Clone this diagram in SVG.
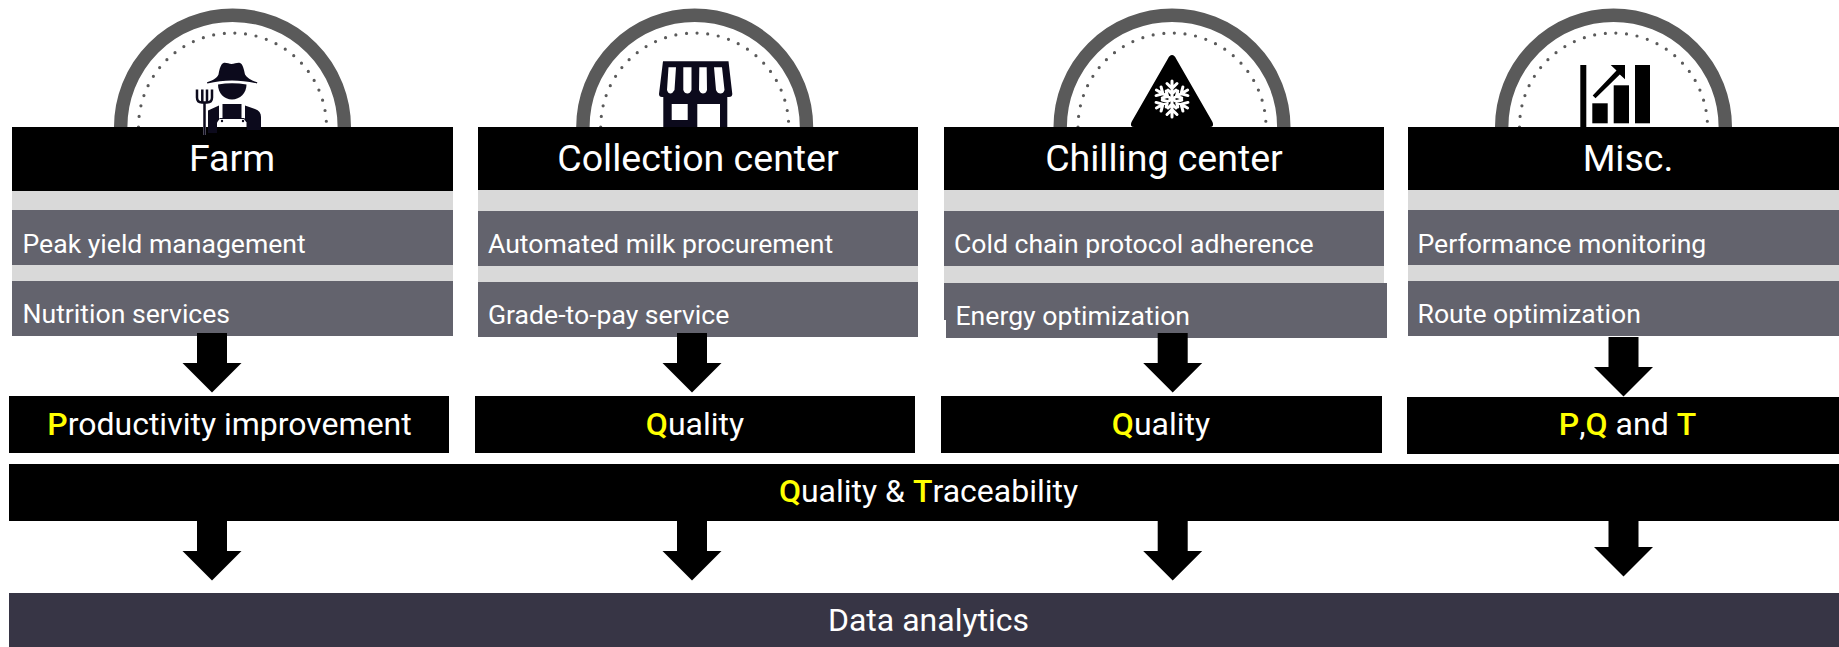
<svg xmlns="http://www.w3.org/2000/svg" width="1839" height="647" viewBox="0 0 1839 647">
<style>
text{font-family:Roboto,"Liberation Sans",sans-serif;fill:#fff}
.h{font-size:37.500px;text-anchor:middle}
.s{font-size:26.600px}
.o{font-size:32px;text-anchor:middle}
.y{fill:#ff0;font-weight:500}
.blk{fill:#000}
.lt{fill:#d9d9d9}
.dk{fill:#63636d}
.ring{fill:#fff;stroke:#5a5a5a;stroke-width:13.400}
.dots{fill:none;stroke:#5a5a5a;stroke-width:3.200;stroke-linecap:round;stroke-dasharray:0 10.700}
.ic{fill:#0c0a1c}
.w{fill:#fff}
.sf{stroke:#fff;stroke-width:3;fill:none;stroke-linecap:round}
</style>
<defs>
<g id="badge">
<path class="ring" d="M-111.800 0A111.800 111.800 0 0 1 111.800 0"/>
<path class="dots" d="M-94 0A94 94 0 0 1 94 0"/>
</g>
<path id="arrow" d="M-15 0H15V30H29.500L0 59.500-29.500 30H-15Z"/>
<g id="arm"><path d="M0 0V-18M-5 -15.500L0 -10.500 5 -15.500M-4 -9L0 -5 4 -9"/></g>
</defs>
<rect width="1839" height="647" fill="#fff"/>

<g id="node-farm">
<use href="#badge" x="232.500" y="127"/>
<g id="farm-icon">
<path class="ic" d="M207 82.300C213 80.500 217 78 218.500 74.500C219.500 69 221 63.500 223.500 63C226 62.300 229 64 231.500 64C234.500 64 237.500 62.300 240 63C242.500 63.800 244 69 245 74.500C247 78 251.500 80.500 257.300 82.300L257 83.500C248 81.500 240 80.500 232 80.500C224 80.500 216 81.500 207.300 83.500Z"/>
<path class="ic" d="M218 84.500Q232 81.800 246.500 84.500C246.500 93 240 99.500 232 99.500C224 99.500 218 93 218 84.500Z"/>
<path class="ic" d="M208 110.500L219 105.500V122L217 125V135H208ZM245 105.500L255 109C259 110.500 261 113 261 117V130H247L246 124H217V122H245Z"/>
<path class="ic" d="M222.500 104H241.500V118H222.500ZM217 121.500Q218.500 118.500 220 118H244Q246 118.500 247 121.500V135H217Z" fill-rule="evenodd"/>
<path class="w" d="M217 127V122.500L219.500 119H244L246.500 122.500V127Z"/>
<circle class="ic" cx="222" cy="121" r="1.200"/><circle class="ic" cx="243" cy="121" r="1.200"/>
<path d="M197 89.500V97.500Q197 102.500 202 102.500H207Q212 102.500 212 97.500V89.500M202.300 89.500V102M207 89.500V102M204.500 102V135" fill="none" stroke="#0c0a1c" stroke-width="2.500"/>
</g>
<path d="M12 127H203V135H206V127H208V133H217V127H247V130H261V127H453V191H12Z" class="blk"/>
<rect class="lt" x="12" y="191" width="441" height="19"/>
<rect class="dk" x="12" y="210" width="441" height="55"/>
<rect class="lt" x="12" y="265" width="441" height="16"/>
<rect class="dk" x="12" y="281" width="441" height="55"/>
<text class="h" x="232" y="170.500">Farm</text>
<text class="s" x="22.500" y="252.700">Peak yield management</text>
<text class="s" x="22.500" y="322.700">Nutrition services</text>
</g>

<g id="node-collection">
<use href="#badge" x="694.700" y="127"/>
<g id="store-icon">
<path class="ic" d="M663 61.300H728.500L732.300 94Q732.300 97 729 97H727.300V130H663.300V97H662Q659 97 659 94Z"/>
<path class="w" d="M668.500 67.300H676L674.500 90Q672.500 93.500 670.500 93.500Q668 93.500 667 90ZM683.300 67.300H691.500V90Q690 93.500 687.500 93.500Q684.500 93.500 683.300 90ZM699.300 67.300H706.700L707 90Q706 93.500 703 93.500Q700.500 93.500 699 90ZM714 67.300H722L724.500 90Q723.500 93.500 720.500 93.500Q717.500 93.500 716 90Z"/>
<rect class="w" x="671.700" y="104" width="16" height="16"/>
<rect class="w" x="697.300" y="104" width="22.700" height="23"/>
</g>
<rect class="blk" x="478" y="127" width="440" height="63"/>
<rect class="lt" x="478" y="190" width="440" height="21"/>
<rect class="dk" x="478" y="211" width="440" height="55"/>
<rect class="lt" x="478" y="266" width="440" height="16"/>
<rect class="dk" x="478" y="282" width="440" height="55"/>
<text class="h" x="698" y="170.500">Collection center</text>
<text class="s" x="488" y="252.700">Automated milk procurement</text>
<text class="s" x="488" y="323.500">Grade-to-pay service</text>
</g>

<g id="node-chilling">
<use href="#badge" x="1172" y="127"/>
<g id="cold-icon">
<path d="M1172 55Q1174.500 55 1176 58.500L1212.500 122Q1214.500 127 1210 127H1134Q1129.500 127 1131.500 122L1168 58.500Q1169.500 55 1172 55Z" fill="#000"/>
<g class="sf" transform="translate(1172 99)">
<use href="#arm"/><use href="#arm" transform="rotate(60)"/><use href="#arm" transform="rotate(120)"/><use href="#arm" transform="rotate(180)"/><use href="#arm" transform="rotate(240)"/><use href="#arm" transform="rotate(300)"/>
</g>
</g>
<rect class="blk" x="944" y="127" width="440" height="63"/>
<rect class="lt" x="944" y="190" width="440" height="21"/>
<rect class="dk" x="944" y="211" width="440" height="55"/>
<rect class="lt" x="944" y="266" width="440" height="17"/>
<rect class="dk" x="944" y="283" width="2" height="37"/>
<rect class="dk" x="946" y="283" width="441" height="55"/>
<text class="h" x="1164" y="170.500">Chilling center</text>
<text class="s" x="954" y="252.700">Cold chain protocol adherence</text>
<text class="s" x="955.500" y="325">Energy optimization</text>
</g>

<g id="node-misc">
<use href="#badge" x="1613.500" y="127"/>
<g id="chart-icon">
<rect class="blk" x="1580.300" y="65" width="6" height="62"/>
<rect class="blk" x="1592.300" y="103.300" width="15.400" height="20"/>
<rect class="blk" x="1613.700" y="85.300" width="15.300" height="38"/>
<rect class="blk" x="1635" y="65" width="15" height="58.300"/>
<path class="blk" d="M1610.700 65H1625V79.300L1619.800 74.500 1595.500 98.300 1592.700 95.500 1616.500 70.500Z"/>
</g>
<rect class="blk" x="1408" y="127" width="440" height="63"/>
<rect class="lt" x="1408" y="190" width="440" height="20"/>
<rect class="dk" x="1408" y="210" width="440" height="55"/>
<rect class="lt" x="1408" y="265" width="440" height="16"/>
<rect class="dk" x="1408" y="281" width="440" height="55"/>
<text class="h" x="1628" y="170.500">Misc.</text>
<text class="s" x="1417.500" y="252.700">Performance monitoring</text>
<text class="s" x="1417.500" y="322.700">Route optimization</text>
</g>

<g id="node-out-farm"><rect class="blk" x="9" y="396" width="440" height="57"/><text class="o" x="229.500" y="435"><tspan class="y">P</tspan>roductivity improvement</text></g>
<g id="node-out-collection"><rect class="blk" x="475" y="396" width="440" height="57"/><text class="o" x="695" y="435"><tspan class="y">Q</tspan>uality</text></g>
<g id="node-out-chilling"><rect class="blk" x="941" y="396" width="441" height="57"/><text class="o" x="1161" y="435"><tspan class="y">Q</tspan>uality</text></g>
<g id="node-out-misc"><rect class="blk" x="1407" y="397" width="440" height="57"/><text class="o" x="1627.500" y="435"><tspan class="y">P</tspan>,<tspan class="y">Q</tspan> and <tspan class="y">T</tspan></text></g>
<g id="node-qt"><rect class="blk" x="9" y="464" width="1839" height="57"/><text class="o" x="928.500" y="502"><tspan class="y">Q</tspan>uality &amp; <tspan class="y">T</tspan>raceability</text></g>
<g id="node-analytics"><rect x="9" y="593" width="1839" height="54" fill="#373545"/><text class="o" x="928.500" y="631">Data analytics</text></g>

<g id="connectors" class="blk">
<use href="#arrow" x="212" y="333"/>
<use href="#arrow" x="692" y="333"/>
<use href="#arrow" x="1172.700" y="333"/>
<use href="#arrow" x="1623.500" y="337"/>
<use href="#arrow" x="212" y="521"/>
<use href="#arrow" x="692" y="521"/>
<use href="#arrow" x="1172.700" y="521"/>
<use href="#arrow" x="1623.500" y="517"/>
</g>
</svg>
